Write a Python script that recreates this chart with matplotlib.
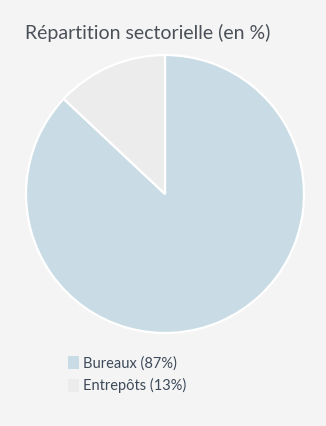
import matplotlib
matplotlib.use("Agg")
import matplotlib.pyplot as plt
from matplotlib.patches import Patch

categories = ["Bureaux", "Entrepôts"]
values = [87, 13]
colors = ["#c9dce6", "#ececec"]
title = "Répartition sectorielle (en %)"

plt.rcParams['font.family'] = ['Lato', 'DejaVu Sans']

W, H = 326, 426
fig = plt.figure(figsize=(W / 100, H / 100), dpi=100, facecolor="#f4f4f4")

cx, cy, r = 165, 194, 141
ax = fig.add_axes([(cx - r) / W, (H - cy - r) / H, 2 * r / W, 2 * r / H])
ax.set_facecolor("#f4f4f4")
ax.pie(values, colors=colors, startangle=90, counterclock=False, radius=139 / 141,
       wedgeprops=dict(edgecolor="white", linewidth=1.6))
ax.set_xlim(-1, 1)
ax.set_ylim(-1, 1)
ax.set_aspect("equal")
ax.axis("off")

fig.text(25 / W, 1 - 33 / H, title, fontsize=14, color="#4b5058",
         ha="left", va="center")

handles = [Patch(facecolor=c, edgecolor="none") for c in colors]
labels = [f"{c} ({v}%)" for c, v in zip(categories, values)]
leg = fig.legend(handles, labels, loc="upper left",
                 bbox_to_anchor=(62 / W, 1 - 350 / H), frameon=False,
                 fontsize=10.5, handlelength=0.75, handleheight=1.0,
                 handletextpad=0.3, labelspacing=0.55, borderaxespad=0)
for t in leg.get_texts():
    t.set_color("#3e4a59")

fig.savefig("out.png", dpi=100, facecolor=fig.get_facecolor())
